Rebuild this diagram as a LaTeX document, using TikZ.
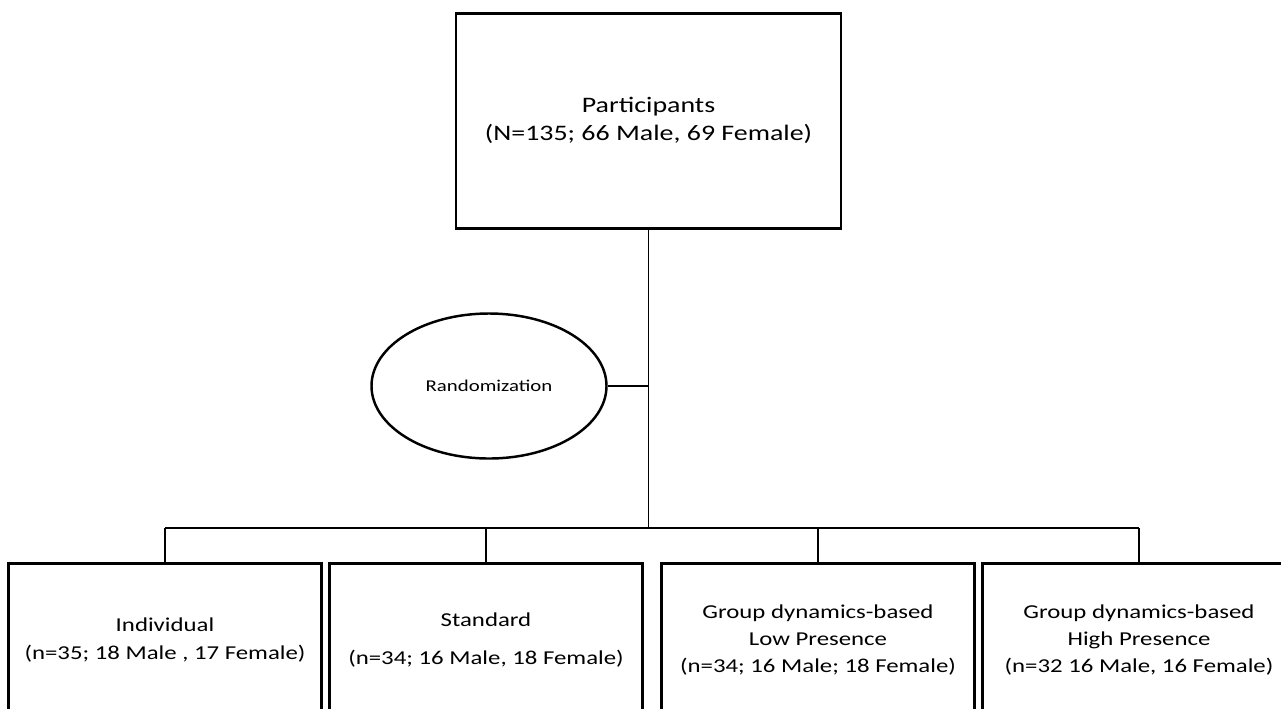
\documentclass[tikz,border=0pt]{standalone}
\usepackage{fontspec}
\setmainfont[FakeStretch=1.26]{Carlito}
\usepackage{tikz}
\usetikzlibrary{shapes.geometric, positioning, calc}
\tikzset{
  % Box styles
  topbox/.style={rectangle, draw=black, line width=1.7pt, fill=white, minimum width=7.70cm, minimum height=4.30cm, font=\fontsize{12.6}{16}\selectfont, align=center, inner sep=0pt},
  groupbox/.style={rectangle, draw=black, line width=1.7pt, fill=white, minimum width=6.26cm, minimum height=3.08cm, font=\fontsize{11.2}{15.4}\selectfont, align=center, inner sep=0pt},
  randnode/.style={ellipse, draw=black, line width=1.4pt, fill=white, minimum width=4.70cm, minimum height=2.90cm, font=\fontsize{9.4}{11}\selectfont, inner sep=0pt},
  % Line styles
  link/.style={draw=black, line width=0.6pt}
}

\begin{document}
\begin{tikzpicture}
  \useasboundingbox (0,0) rectangle (25.62,-14.16);
  \fill[white] (0,0) rectangle (25.62,-14.16);

  % Top
  \node[topbox] (participants) at (12.97,-2.41) {Participants\\(N=135; 66 Male, 69 Female)};
  \node[randnode] (rand) at (9.78,-7.72) {Randomization};

  % Groups
  \node[groupbox] (indiv) at (3.30,-12.80) {Individual\\(n=35; 18 Male , 17 Female)};
  \node[groupbox] (std) at (9.72,-12.80) {Standard\\[0.22cm](n=34; 16 Male, 18 Female)};
  \node[groupbox] (low) at (16.36,-12.80) {Group dynamics-based\\Low Presence\\(n=34; 16 Male; 18 Female)};
  \node[groupbox] (high) at (22.78,-12.80) {Group dynamics-based\\High Presence\\(n=32 16 Male, 16 Female)};

  % Connectors
  \coordinate (bus) at (participants.south |- 0,-10.56);
  \coordinate (rjoin) at (participants.south |- rand.east);
  \draw[link] (participants.south) -- (bus);
  \draw[link] (rand.east) -- (rjoin);
  \draw[link] (bus -| indiv.north) -- (bus -| high.north);
  \foreach \g in {indiv,std,low,high}
    \draw[link] (\g.north |- bus) -- (\g.north);
\end{tikzpicture}
\end{document}
